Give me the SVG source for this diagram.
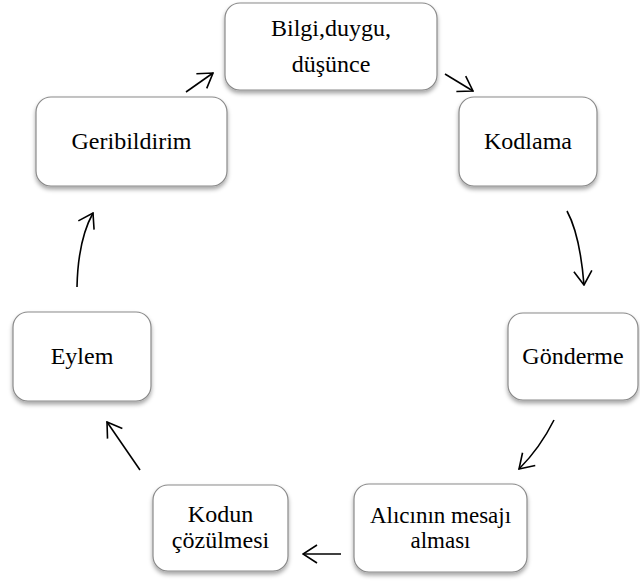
<svg xmlns="http://www.w3.org/2000/svg" width="640" height="581" viewBox="0 0 640 581">
<style>
.box{fill:#fff;stroke:#8a8a8a;stroke-width:1.2;filter:url(#sh)}
.t{font-size:24px;fill:#000;text-anchor:middle}
.arr{fill:none;stroke:#000;stroke-width:1.6;marker-end:url(#ah)}
</style>
<defs>
<filter id="sh" x="-10%" y="-10%" width="120%" height="130%">
<feDropShadow dx="0" dy="3" stdDeviation="2" flood-color="#000" flood-opacity="0.35"/>
</filter>
<marker id="ah" viewBox="0 0 16 20" refX="15" refY="10" markerWidth="16" markerHeight="20" markerUnits="userSpaceOnUse" orient="auto">
<path d="M1,1 L15,10 L1,19" fill="none" stroke="#000" stroke-width="1.6"/>
</marker>
</defs>
<g id="connectors">
<path class="arr" d="M186,92 L213,73"/>
<path class="arr" d="M445,74 L473,91"/>
<path class="arr" d="M567,211 Q580,235 584,285"/>
<path class="arr" d="M554,420 Q540,448 519,469"/>
<path class="arr" d="M341,554 L303,554"/>
<path class="arr" d="M140,470 L107,422"/>
<path class="arr" d="M77,287 Q78,240 93,213"/>
</g>
<g font-family="'Liberation Serif', 'Times New Roman', Times, serif">
<g id="n-bilgi">
<rect class="box" x="225" y="3" width="212" height="87" rx="15"/>
<text class="t" x="331" y="36">Bilgi,duygu,</text>
<text class="t" x="331" y="72">düşünce</text>
</g>
<g id="n-kodlama">
<rect class="box" x="459" y="97" width="138" height="89" rx="15"/>
<text class="t" x="528" y="149">Kodlama</text>
</g>
<g id="n-gonderme">
<rect class="box" x="508" y="313" width="130" height="87" rx="15"/>
<text class="t" x="573" y="364">Gönderme</text>
</g>
<g id="n-alici">
<rect class="box" x="354" y="484" width="173" height="88" rx="15"/>
<text class="t" x="440.5" y="523" style="font-size:23px">Alıcının mesajı</text>
<text class="t" x="440.5" y="548" style="font-size:23px">alması</text>
</g>
<g id="n-kodun">
<rect class="box" x="153" y="485" width="135" height="86" rx="15"/>
<text class="t" x="220.5" y="522">Kodun</text>
<text class="t" x="220.5" y="548">çözülmesi</text>
</g>
<g id="n-eylem">
<rect class="box" x="13" y="312" width="138" height="89" rx="15"/>
<text class="t" x="82" y="364">Eylem</text>
</g>
<g id="n-geri">
<rect class="box" x="36" y="97" width="191" height="89" rx="15"/>
<text class="t" x="131.5" y="149">Geribildirim</text>
</g>
</g>
</svg>
